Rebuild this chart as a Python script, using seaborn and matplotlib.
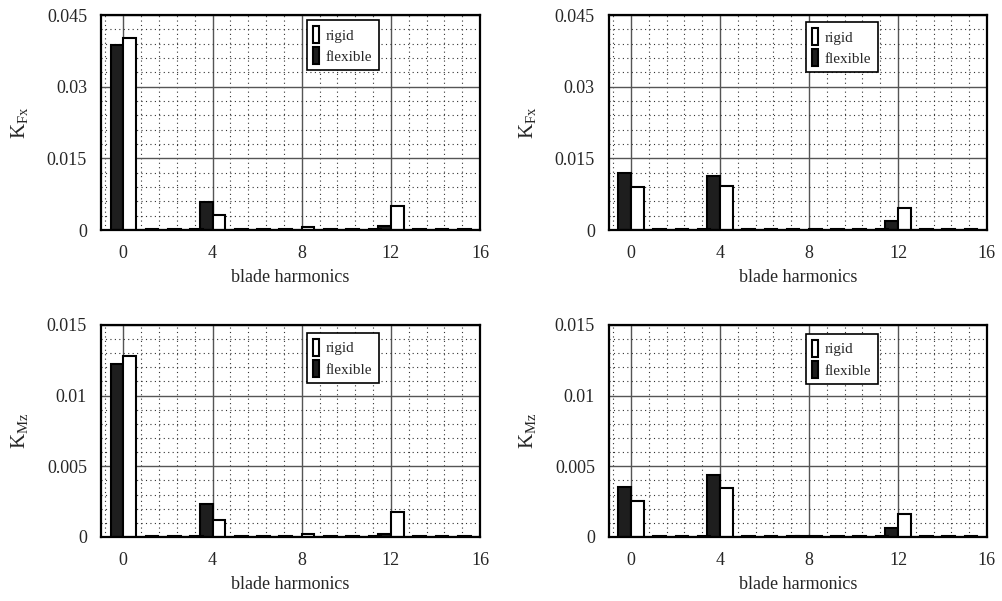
import numpy as np
import pandas as pd
import matplotlib
matplotlib.use("Agg")
import matplotlib.pyplot as plt
import seaborn as sns
from matplotlib.ticker import MultipleLocator, AutoMinorLocator

sns.set_style("white")
plt.rcParams["font.family"] = ["Liberation Serif", "DejaVu Serif"]
plt.rcParams["mathtext.fontset"] = "custom"
plt.rcParams["mathtext.rm"] = "Liberation Serif"

harmonics = list(range(17))
series_order = ["flexible", "rigid"]
legend_order = ["rigid", "flexible"]
xtick_values = [0, 4, 8, 12, 16]
xlabel_text = "blade harmonics"

# Force coefficient K_Fx, left case
fx_left_flexible = [0.0387, 0, 0, 0, 0.0059, 0, 0, 0, 0,
                    0, 0, 0, 0.0009, 0, 0, 0, 0]
fx_left_rigid = [0.0402, 0.0002, 0.0002, 0.0002, 0.0031, 0.0002, 0.0002, 0.0002, 0.0007,
                 0.0002, 0.0002, 0.0002, 0.0050, 0.0002, 0.0002, 0.0002, 0.0002]

# Force coefficient K_Fx, right case
fx_right_flexible = [0.0120, 0, 0, 0, 0.0114, 0, 0, 0, 0.0001,
                     0, 0, 0, 0.0020, 0, 0, 0, 0]
fx_right_rigid = [0.0091, 0.0002, 0.0002, 0.0002, 0.0093, 0.0002, 0.0002, 0.0002, 0.0002,
                  0.0002, 0.0002, 0.0002, 0.0046, 0.0002, 0.0002, 0.0002, 0.0002]

# Moment coefficient K_Mz, left case
mz_left_flexible = [0.0122, 0, 0, 0, 0.0023, 0, 0, 0, 0,
                    0, 0, 0, 0.00023, 0, 0, 0, 0]
mz_left_rigid = [0.0128, 0.00006, 0.00006, 0.00006, 0.00118, 0.00006, 0.00006, 0.00006, 0.0002,
                 0.00006, 0.00006, 0.00006, 0.00175, 0.00006, 0.00006, 0.00006, 0.00006]

# Moment coefficient K_Mz, right case
mz_right_flexible = [0.00354, 0, 0, 0, 0.0044, 0, 0, 0, 0.00006,
                     0, 0, 0, 0.00062, 0, 0, 0, 0]
mz_right_rigid = [0.00255, 0.00006, 0.00006, 0.00006, 0.00345, 0.00006, 0.00006, 0.00006, 0.00006,
                  0.00006, 0.00006, 0.00006, 0.0016, 0.00006, 0.00006, 0.00006, 0.00006]

fx_ticks = [0, 0.015, 0.03, 0.045]
fx_ticklabels = ["0", "0.015", "0.03", "0.045"]
mz_ticks = [0, 0.005, 0.01, 0.015]
mz_ticklabels = ["0", "0.005", "0.01", "0.015"]

palette = {"flexible": "#1e1e1e", "rigid": "white"}

panels = [
    # (flexible, rigid, ylabel, yticks, yticklabels, axes rect, legend anchor)
    (fx_left_flexible, fx_left_rigid, r"$\mathregular{K_{Fx}}$", fx_ticks, fx_ticklabels,
     [0.1007, 0.617, 0.378, 0.358], (0.543, 0.977)),
    (fx_right_flexible, fx_right_rigid, r"$\mathregular{K_{Fx}}$", fx_ticks, fx_ticklabels,
     [0.607, 0.617, 0.377, 0.358], (0.521, 0.967)),
    (mz_left_flexible, mz_left_rigid, r"$\mathregular{K_{Mz}}$", mz_ticks, mz_ticklabels,
     [0.1007, 0.1065, 0.378, 0.353], (0.543, 0.962)),
    (mz_right_flexible, mz_right_rigid, r"$\mathregular{K_{Mz}}$", mz_ticks, mz_ticklabels,
     [0.607, 0.1065, 0.377, 0.353], (0.521, 0.958)),
]

fig = plt.figure(figsize=(10.03, 6.01), dpi=100)

for flexible, rigid, ylabel, yticks, yticklabels, rect, anchor in panels:
    ax = fig.add_axes(rect)
    df = pd.DataFrame({
        "harmonic": harmonics * 2,
        "case": ["flexible"] * len(harmonics) + ["rigid"] * len(harmonics),
        "value": flexible + rigid,
    })
    sns.barplot(data=df, x="harmonic", y="value", hue="case", order=harmonics,
                hue_order=series_order, palette=palette, saturation=1, width=1.14,
                edgecolor="black", linewidth=1.5, errorbar=None, ax=ax)

    ax.set_xlim(-1, 16)
    ax.set_xticks(xtick_values)
    ax.set_xticklabels([str(v) for v in xtick_values])
    ax.xaxis.set_minor_locator(AutoMinorLocator(5))
    ax.set_ylim(yticks[0], yticks[-1])
    ax.set_yticks(yticks)
    ax.set_yticklabels(yticklabels)
    ax.yaxis.set_minor_locator(MultipleLocator(yticks[1] / 5))

    ax.set_axisbelow(True)
    ax.grid(which="major", color="#555555", linestyle="-", linewidth=1.0)
    ax.grid(which="minor", color="#333333", linestyle=(0, (1, 3)), linewidth=0.8)

    ax.tick_params(axis="both", which="both", length=0, labelsize=13)
    ax.tick_params(axis="x", pad=11)
    ax.tick_params(axis="y", pad=10)
    for spine in ax.spines.values():
        spine.set_visible(True)
        spine.set_color("black")
        spine.set_linewidth(1.6)

    ax.set_xlabel(xlabel_text, fontsize=13, labelpad=5)
    ax.set_ylabel(ylabel, fontsize=15, labelpad=12)

    handles, labels = ax.get_legend_handles_labels()
    lookup = dict(zip(labels, handles))
    leg = ax.legend([lookup[k] for k in legend_order], legend_order,
                    loc="upper left", bbox_to_anchor=anchor, borderaxespad=0,
                    fontsize=11, handlelength=0.4, handleheight=1.3,
                    handletextpad=0.45, labelspacing=0.3, borderpad=0.4,
                    frameon=True, fancybox=False, framealpha=1,
                    edgecolor="black")
    leg.get_frame().set_linewidth(1.2)

fig.savefig("out.png", dpi=100)
